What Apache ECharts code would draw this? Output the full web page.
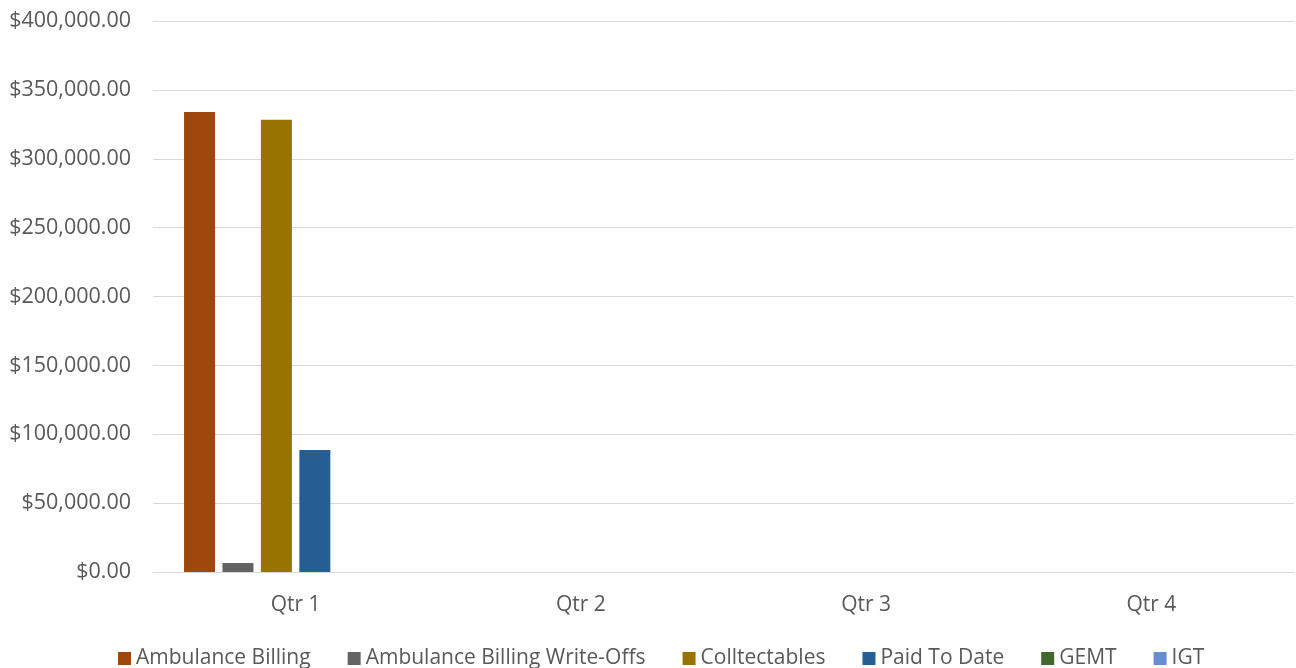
<!DOCTYPE html>
<html>
<head>
<meta charset="utf-8">
<script src="https://cdn.jsdelivr.net/npm/echarts@6/dist/echarts.min.js"></script>
<style>html,body{margin:0;padding:0;background:#fff;}#chart{width:1296px;height:668px;}</style>
</head>
<body>
<div id="chart"></div>
<script>
var categories = ['Qtr 1', 'Qtr 2', 'Qtr 3', 'Qtr 4'];
var seriesNames = ['Ambulance Billing', 'Ambulance Billing Write-Offs', 'Colltectables', 'Paid To Date', 'GEMT', 'IGT'];
var ambulanceBilling = [334000, 0, 0, 0];
var writeOffs = [6500, 0, 0, 0];
var colltectables = [328300, 0, 0, 0];
var paidToDate = [88500, 0, 0, 0];
var gemt = [0, 0, 0, 0];
var igt = [0, 0, 0, 0];
var seriesData = [ambulanceBilling, writeOffs, colltectables, paidToDate, gemt, igt];
var colors = ['#9E480E', '#636363', '#997300', '#255E91', '#43682B', '#698ED0'];

function fmt(v) {
  var s = Math.round(v).toString().replace(/\B(?=(\d{3})+(?!\d))/g, ',');
  return '$' + s + '.00';
}

var chart = echarts.init(document.getElementById('chart'));
var font = '"Open Sans", Lato, sans-serif';
chart.setOption({
  animation: false,
  color: colors,
  textStyle: { fontFamily: font },
  grid: { left: 153, right: 2, top: 21, bottom: 96, containLabel: false },
  legend: {
    top: 643,
    left: 113,
    itemWidth: 13,
    itemHeight: 13,
    itemGap: 37,
    icon: 'rect',
    textStyle: { fontSize: 21, color: '#595959', fontFamily: font },
    data: seriesNames
  },
  xAxis: {
    type: 'category',
    data: categories,
    axisLine: { lineStyle: { color: '#d9d9d9', width: 1 } },
    axisTick: { show: false },
    axisLabel: { fontSize: 21, color: '#595959', margin: 23, fontFamily: font }
  },
  yAxis: {
    type: 'value',
    min: 0,
    max: 400000,
    interval: 50000,
    axisLine: { show: false },
    axisTick: { show: false },
    splitLine: { lineStyle: { color: '#d9d9d9', width: 1 } },
    axisLabel: { fontSize: 21.5, color: '#595959', margin: 22, formatter: fmt, fontFamily: font }
  },
  series: seriesNames.map(function (name, i) {
    return {
      name: name,
      type: 'bar',
      data: seriesData[i],
      barWidth: 31,
      barGap: '24%'
    };
  })
});
</script>
</body>
</html>
